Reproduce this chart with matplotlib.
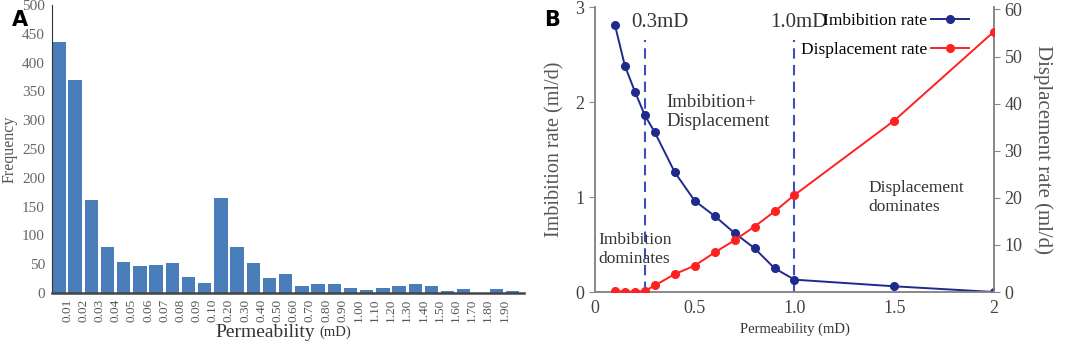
import numpy as np
import matplotlib
matplotlib.use("Agg")
import matplotlib.pyplot as plt
from matplotlib.lines import Line2D

plt.rcParams['font.family'] = ['Liberation Serif', 'DejaVu Serif']

# panel A: histogram of permeability (29 bins, 28 edge labels)
edge_labels = ["0.01", "0.02", "0.03", "0.04", "0.05", "0.06", "0.07", "0.08", "0.09", "0.10",
               "0.20", "0.30", "0.40", "0.50", "0.60", "0.70", "0.80", "0.90",
               "1.00", "1.10", "1.20", "1.30", "1.40", "1.50", "1.60", "1.70", "1.80", "1.90"]
freq = [436, 370, 161, 80, 54, 46, 48, 52, 28, 17,
        165, 80, 52, 26, 33, 12, 15, 16,
        8, 5, 8, 12, 15, 12, 4, 6, 0, 6, 4]
freq_ticks = [0, 50, 100, 150, 200, 250, 300, 350, 400, 450, 500]

# panel B: rates vs permeability
perm = [0.1, 0.15, 0.2, 0.25, 0.3, 0.4, 0.5, 0.6, 0.7, 0.8, 0.9, 1.0, 1.5, 2.0]
imb_rate = [2.81, 2.38, 2.11, 1.86, 1.68, 1.26, 0.96, 0.80, 0.62, 0.46, 0.25, 0.13, 0.06, 0.0]
disp_rate = [0.2, 0.1, 0.1, 0.2, 1.4, 3.8, 5.6, 8.4, 11.0, 13.9, 17.1, 20.6, 36.4, 55.3]
limits = [0.25, 1.0]

tick_col = "#555555"
bar_col = "#4a7ebb"
blue = "#1f2a8c"
red = "#ff2020"
dash_col = "#3b4fc0"

fig = plt.figure(figsize=(10.65, 3.5), dpi=100)

# ---------- A ----------
ax1 = fig.add_axes([0.0488, 0.163, 0.443, 0.823])
x = np.arange(len(freq))
ax1.bar(x, freq, width=0.82, color=bar_col, edgecolor="none")
ax1.set_xlim(-0.43, 28.7)
ax1.set_ylim(0, 500)
ax1.set_yticks(freq_ticks)
ax1.set_xticks(np.arange(len(edge_labels)) + 0.5)
ax1.set_xticklabels(edge_labels, rotation=90, fontsize=9.5, color=tick_col)
ax1.tick_params(axis='x', length=0, pad=4)
ax1.tick_params(axis='y', length=0, labelsize=11, labelcolor="#666666", pad=5)
for s in ["top", "right"]:
    ax1.spines[s].set_visible(False)
ax1.spines["left"].set_color("#333333")
ax1.spines["bottom"].set_color("#444444")
ax1.spines["bottom"].set_linewidth(1.8)
ax1.set_ylabel("Frequency", fontsize=11.5, color="#555555", labelpad=3)
ax1.text(0.557, -0.138, "Permeability", transform=ax1.transAxes, fontsize=14,
         color="#333333", ha="right", va="center")
ax1.text(0.567, -0.135, "(mD)", transform=ax1.transAxes, fontsize=10.5,
         color="#333333", ha="left", va="center")

fig.text(0.011, 0.97, "A", fontsize=15, fontweight="bold", family="DejaVu Sans", va="top")
fig.text(0.511, 0.97, "B", fontsize=15, fontweight="bold", family="DejaVu Sans", va="top")

# ---------- B ----------
ax2 = fig.add_axes([0.5587, 0.1657, 0.3746, 0.814])
ax3 = ax2.twinx()

ln1, = ax2.plot(perm, imb_rate, color=blue, lw=1.4, marker="o", ms=5.5, zorder=3)
ln2, = ax3.plot(perm, disp_rate, color=red, lw=1.4, marker="o", ms=5.5, zorder=3)

for xv in limits:
    ax2.plot([xv, xv], [0, 2.65], color=dash_col, lw=1.5, ls=(0, (5, 3)), zorder=2)

ax2.set_xlim(0, 2)
ax2.set_ylim(0, 3)
ax3.set_ylim(0, 60.5)
ax2.set_xticks([0, 0.5, 1.0, 1.5, 2])
ax2.set_xticklabels(["0", "0.5", "1.0", "1.5", "2"])
ax2.set_yticks([0, 1, 2, 3])
ax3.set_yticks([0, 10, 20, 30, 40, 50, 60])

for a in (ax2, ax3):
    a.spines["top"].set_visible(False)
    for s in ["left", "right", "bottom"]:
        a.spines[s].set_color("#888888")
        a.spines[s].set_linewidth(1.2)
    a.tick_params(labelsize=13, labelcolor="#444444", color="#888888", length=4)
ax2.tick_params(axis='x', length=0, pad=6)

ax2.set_ylabel("Imbibition rate (ml/d)", fontsize=14.5, color="#555555", labelpad=8)
ax3.set_ylabel("Displacement rate (ml/d)", fontsize=15, color="#555555",
               rotation=270, labelpad=22)
ax2.set_xlabel("Permeability (mD)", fontsize=10.5, color="#333333", labelpad=4)

ax2.text(0.18, 2.84, "0.3mD", fontsize=15, color="#333333", va="center")
ax2.text(0.88, 2.84, "1.0mD", fontsize=15, color="#333333", va="center")
ax2.text(0.36, 1.9, "Imbibition+\nDisplacement", fontsize=13.5, color="#333333",
         va="center", linespacing=1.15)
ax2.text(0.015, 0.45, "Imbibition\ndominates", fontsize=12.5, color="#333333",
         va="center", linespacing=1.25)
ax2.text(1.37, 1.0, "Displacement\ndominates", fontsize=12.5, color="#333333",
         va="center", linespacing=1.25)

handles = [Line2D([], [], color=blue, lw=1.4, marker="o", ms=5.5),
           Line2D([], [], color=red, lw=1.4, marker="o", ms=5.5)]
ax2.legend(handles, ["Imbibition rate", "Displacement rate"], loc="upper right",
           bbox_to_anchor=(0.955, 1.005), frameon=False, markerfirst=False,
           fontsize=12.5, labelspacing=0.75, handlelength=2.2, handletextpad=0.2,
           borderaxespad=0)

fig.savefig("out.png", dpi=100)
